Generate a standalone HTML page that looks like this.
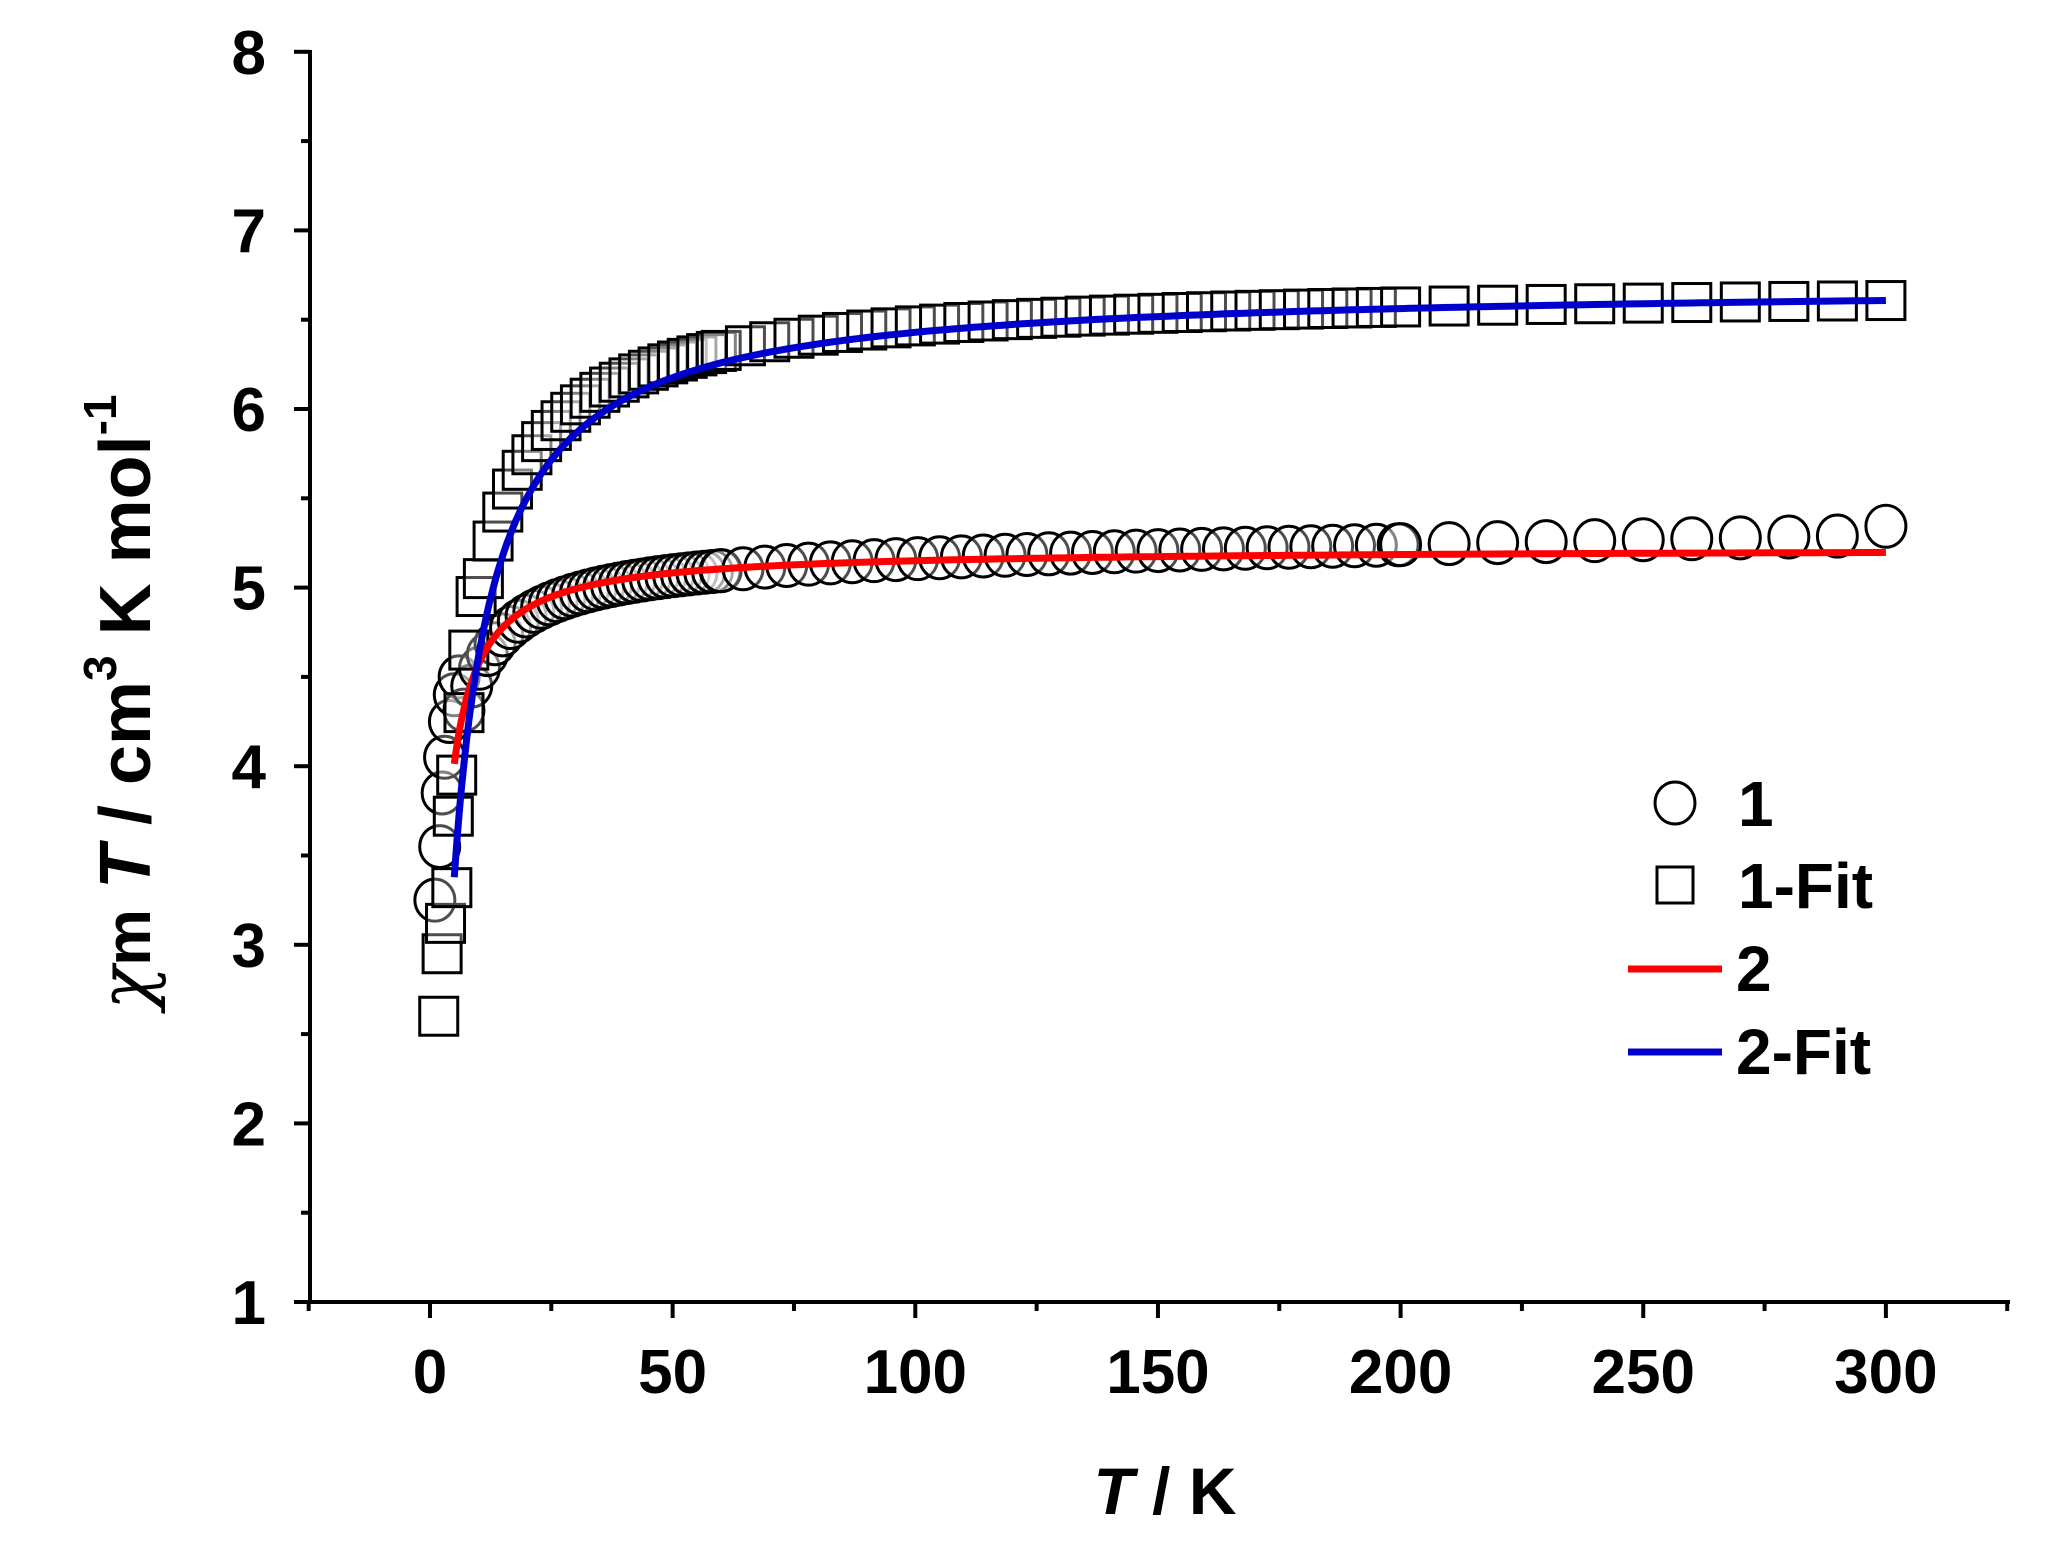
<!DOCTYPE html>
<html><head><meta charset="utf-8"><style>html,body{margin:0;padding:0;background:#fff}svg{display:block}</style></head>
<body>
<svg id="s" xmlns="http://www.w3.org/2000/svg" width="2055" height="1555" viewBox="0 0 2055 1555" font-family="Liberation Sans, Arial, sans-serif" font-weight="bold">
<rect width="2055" height="1555" fill="#fff"/>
<g id="data"></g>
<g id="axes" stroke="#000" stroke-width="4"></g>
<g id="labels" font-size="62" fill="#000"></g>
<text transform="translate(150,702) rotate(-90)" font-size="72" text-anchor="middle" fill="#000"><tspan font-style="italic" font-weight="normal" font-family="DejaVu Serif, serif">χ</tspan><tspan font-size="64">m</tspan> <tspan font-style="italic">T</tspan> / cm<tspan dy="-34" font-size="46">3</tspan><tspan dy="34"> K mol</tspan><tspan dy="-34" font-size="46">-1</tspan></text>
<text x="1165" y="1514" font-size="66" text-anchor="middle" fill="#000"><tspan font-style="italic">T</tspan> / K</text>
<g fill="none" stroke="#000" stroke-width="3">
<ellipse cx="1675" cy="803" rx="20" ry="21"/>
<rect x="1657" y="867" width="36" height="36"/>
</g>
<line x1="1628" y1="969" x2="1722" y2="969" stroke="#f00" stroke-width="7"/>
<line x1="1628" y1="1052" x2="1722" y2="1052" stroke="#0000cc" stroke-width="7"/>
<g font-size="64" fill="#000">
<text x="1738" y="826">1</text>
<text x="1738" y="908">1-Fit</text>
<text x="1736" y="991">2</text>
<text x="1736" y="1074">2-Fit</text>
</g>
</svg>
<script>
var NS="http://www.w3.org/2000/svg";
function X(t){return 430+t*4.853;}
function Y(v){return 1302-(v-1)*178.6;}
function el(n,a,p){var e=document.createElementNS(NS,n);for(var k in a)e.setAttribute(k,a[k]);p.appendChild(e);return e;}
var ax=document.getElementById('axes'),lb=document.getElementById('labels'),dg=document.getElementById('data');
el('line',{x1:310,y1:50,x2:310,y2:1304},ax);
el('line',{x1:308,y1:1302,x2:2010,y2:1302},ax);
for(var v=1;v<=8;v++){el('line',{x1:294,y1:Y(v),x2:310,y2:Y(v)},ax);
 var t=el('text',{x:266,y:Y(v)+22,'text-anchor':'end'},lb);t.textContent=v;}
for(var v=1.5;v<8;v+=1){el('line',{x1:301,y1:Y(v),x2:310,y2:Y(v)},ax);}
for(var t=-25;t<=325;t+=25){var maj=(t%50==0);el('line',{x1:X(t),y1:1302,x2:X(t),y2:1302+(maj?16:9)},ax);
 if(maj&&t>=0&&t<=300){var e=el('text',{x:X(t),y:1393,'text-anchor':'middle'},lb);e.textContent=t;}}
var circ=[[1,3.25],[2,3.55],[2.5,3.85],[3,4.05],[4,4.25],[5,4.4],[6,4.5]];
function fc(T){return 5.2-8/(T+2)+0.0004*T;}
for(var T=7;T<60;T+=1.6)circ.push([T,fc(T)]);
for(var T=60;T<200;T+=4.5)circ.push([T,fc(T)]);
for(var T=200;T<=300;T+=10)circ.push([T,fc(T)+(T==300?0.05:0)]);
circ.forEach(function(p){el('ellipse',{cx:X(p[0]),cy:Y(p[1]),rx:20,ry:21,fill:'#fff','fill-opacity':0.3,stroke:'#000','stroke-width':3},dg);});
var sq=[[1.8,2.6],[2.5,2.95],[3.2,3.12],[4.5,3.32],[4.8,3.72],[5.5,3.95],[7,4.3],[8,4.65],[9.5,4.95]];
function fs(T){return 6.68-22/(T+2.5);}
for(var T=11;T<60;T+=2)sq.push([T,fs(T)]);
for(var T=60;T<200;T+=5)sq.push([T,fs(T)]);
for(var T=200;T<=300;T+=10)sq.push([T,fs(T)]);
sq.forEach(function(p){el('rect',{x:X(p[0])-19,y:Y(p[1])-19,width:38,height:38,fill:'#fff','fill-opacity':0.3,stroke:'#000','stroke-width':3},dg);});
function path(f,col){var d='';for(var T=5;T<=300;T+=(T<30?0.25:2)){d+=(d?'L':'M')+X(T).toFixed(1)+','+Y(f(T)).toFixed(1);}
 el('path',{d:d,fill:'none',stroke:col,'stroke-width':7},dg);}
path(function(T){return 5.22-7/(T+0.8);},'#f00');
path(function(T){return 6.7-28/(T+3.43);},'#0000cc');
</script>
</body></html>
